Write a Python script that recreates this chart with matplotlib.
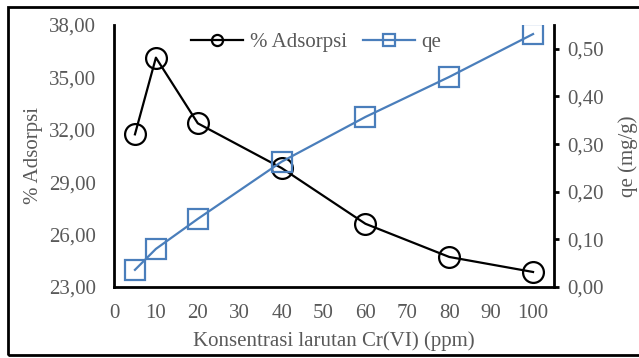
import matplotlib
matplotlib.use("Agg")
import matplotlib.pyplot as plt
from matplotlib.lines import Line2D
from matplotlib.patches import Rectangle

# Data
konsentrasi = [5, 10, 20, 40, 60, 80, 100]
adsorpsi = [31.74, 36.13, 32.37, 29.81, 26.62, 24.72, 23.86]
qe = [0.036, 0.080, 0.143, 0.263, 0.357, 0.441, 0.531]
x_ticks = [0, 10, 20, 30, 40, 50, 60, 70, 80, 90, 100]
y1_ticks = [23, 26, 29, 32, 35, 38]
y2_ticks = [0.0, 0.1, 0.2, 0.3, 0.4, 0.5]

plt.rcParams['font.family'] = ['Liberation Serif', 'DejaVu Serif']
gray = '#595959'
blue = '#4A7EBB'
fs = 15

fig = plt.figure(figsize=(6.39, 3.58), dpi=100)
W, H = 639, 358
ax = fig.add_axes([114 / W, (H - 287) / H, (554 - 114) / W, (287 - 25) / H])
ax2 = ax.twinx()

ax.plot(konsentrasi, adsorpsi, color='black', lw=1.6, marker='o', ms=15,
        mfc='none', mec='black', mew=1.6, zorder=3)
ax2.plot(konsentrasi, qe, color=blue, lw=1.6, marker='s', ms=15,
         mfc='none', mec=blue, mew=1.6, zorder=3)

ax.set_xlim(0, 105)
ax.set_ylim(23, 38)
ax2.set_ylim(0, 0.55)
ax.set_xticks(x_ticks)
ax.set_yticks(y1_ticks)
ax2.set_yticks(y2_ticks)
ax.set_yticklabels([f"{v:.2f}".replace('.', ',') for v in y1_ticks])
ax2.set_yticklabels([f"{v:.2f}".replace('.', ',') for v in y2_ticks])

for a in (ax, ax2):
    a.spines['top'].set_visible(False)
    for s in ('left', 'bottom', 'right'):
        a.spines[s].set_linewidth(2)
        a.spines[s].set_color('black')

ax.spines['right'].set_visible(False)
ax2.spines['left'].set_visible(False)
ax2.spines['bottom'].set_visible(False)

ax.tick_params(axis='both', length=0, labelsize=fs, labelcolor=gray)
ax.tick_params(axis='y', pad=13)
ax.tick_params(axis='x', pad=12)
ax2.tick_params(axis='y', length=3.6, width=2, direction='out', pad=6,
                labelsize=fs, labelcolor=gray, color='black')

ax.set_xlabel('Konsentrasi larutan Cr(VI) (ppm)', fontsize=fs, color=gray, labelpad=6)
ax.set_ylabel('% Adsorpsi', fontsize=fs, color=gray, labelpad=4)
ax2.set_ylabel('qe (mg/g)', fontsize=fs, color=gray, rotation=90, labelpad=10)

handles = [
    Line2D([], [], color='black', lw=1.6, marker='o', ms=8, mfc='none', mec='black', mew=1.6),
    Line2D([], [], color=blue, lw=1.6, marker='s', ms=8, mfc='none', mec=blue, mew=1.6),
]
leg = ax2.legend(handles, ['% Adsorpsi', 'qe'], loc='upper center',
                 bbox_to_anchor=(0.46, 1.02), ncol=2, frameon=False,
                 fontsize=fs, handlelength=2.5, columnspacing=0.8,
                 handletextpad=0.3, borderaxespad=0.2)
for t in leg.get_texts():
    t.set_color(gray)

fig.patches.append(Rectangle((8 / W, (H - 355) / H), (660 - 8) / W, (355 - 7) / H,
                             transform=fig.transFigure, fill=False,
                             edgecolor='black', lw=2))

fig.savefig('out.png', dpi=100)
